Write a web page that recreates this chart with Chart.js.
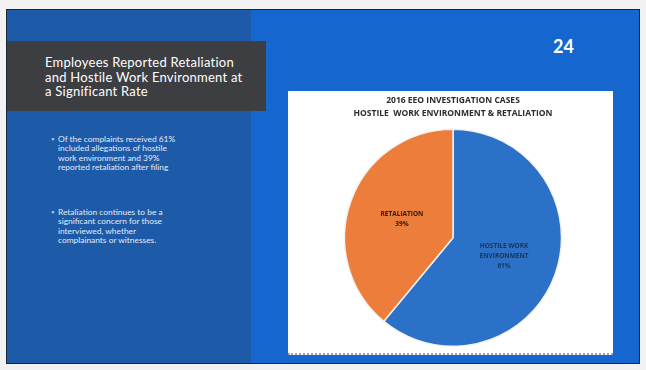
<!DOCTYPE html>
<html>
<head>
<meta charset="utf-8">
<script src="https://cdn.jsdelivr.net/npm/chart.js@4"></script>
<style>
  html, body { margin: 0; padding: 0; background: #f2f2f2; }
  body { width: 646px; height: 370px; position: relative; overflow: hidden; font-family: Lato, "Open Sans", sans-serif; }
  .slide { position: absolute; left: 6px; top: 9px; width: 634px; height: 355px; background: #1567cf; border: 1px solid #1b2638; box-sizing: border-box; }
  .leftpane { position: absolute; left: 0; top: 0; width: 244px; height: 100%; background: #1d5ba8; }
  .titlebox { position: absolute; left: 0; top: 31px; width: 259px; height: 70px; background: #3c3e42; }
  .titlebox p { margin: 0; position: absolute; left: 38px; top: 14px; color: #fff; font-size: 13px; letter-spacing: 0.25px; line-height: 14.5px; white-space: nowrap; }
  .bullets { position: absolute; left: 44px; top: 125px; width: 200px; color: #e2eaf6; font-size: 8.4px; line-height: 9.3px; white-space: nowrap; }
  .bullets div { position: relative; padding-left: 7px; margin-bottom: 36px; }
  .bullets div::before { content: "\25AA"; position: absolute; left: 0; top: 0; color: #9fc0ea; }
  .pagenum { position: absolute; left: 546px; top: 25px; color: #fff; font-size: 18px; font-weight: bold; }
  .chartbox { position: absolute; left: 281px; top: 81px; width: 325px; height: 262px; background: #fff; border-bottom: 2px dotted #9aa4b4; }
</style>
</head>
<body>
<div class="slide">
  <div class="leftpane"></div>
  <div class="titlebox"><p>Employees Reported Retaliation<br>and Hostile Work Environment at<br>a Significant Rate</p></div>
  <div class="bullets">
    <div>Of the complaints received 61%<br>included allegations of hostile<br>work environment and 39%<br>reported retaliation after filing</div>
    <div>Retaliation continues to be a<br>significant concern for those<br>interviewed, whether<br>complainants or witnesses.</div>
  </div>
  <div class="pagenum">24</div>
  <div class="chartbox"><canvas id="pie"></canvas></div>
</div>
<script>
const categories = ['HOSTILE WORK ENVIRONMENT', 'RETALIATION']
const percents = [61, 39]
const COLORS = ['#2b71c8', '#ed7d3b']
const chartTitle = ['2016 EEO INVESTIGATION CASES', 'HOSTILE  WORK ENVIRONMENT & RETALIATION']

// split a label into short lines like the slide
function labelLines(name, pct) {
  if (name === 'HOSTILE WORK ENVIRONMENT') return ['HOSTILE WORK', 'ENVIRONMENT', pct + '%']
  return [name, pct + '%']
}

const sliceLabels = {
  id: 'sliceLabels',
  afterDatasetsDraw(chart) {
    const ctx = chart.ctx
    const meta = chart.getDatasetMeta(0)
    ctx.save()
    ctx.font = 'bold 6.5px "Open Sans", sans-serif'
    ctx.textAlign = 'center'
    ctx.textBaseline = 'middle'
    meta.data.forEach((arc, i) => {
      const p = arc.getCenterPoint()
      const lines = labelLines(categories[i], percents[i])
      ctx.fillStyle = i === 0 ? '#1c3558' : '#2a1a10'
      const step = 10
      lines.forEach((t, j) => {
        ctx.fillText(t, p.x, p.y + (j - (lines.length - 1) / 2) * step)
      })
    })
    ctx.restore()
  }
}

const ctx = document.getElementById('pie').getContext('2d')
let PieChart = new Chart(ctx, {
  type: 'pie',
  data: {
    labels: categories,
    datasets: [{
      data: percents,
      backgroundColor: COLORS,
      borderColor: '#f4f1ee',
      borderWidth: 1.5
    }]
  },
  options: {
    responsive: true,
    maintainAspectRatio: false,
    animation: false,
    layout: { padding: { left: 5, right: 0, top: 0, bottom: 6 } },
    plugins: {
      legend: { display: false },
      tooltip: { enabled: false },
      title: {
        display: true,
        text: chartTitle,
        color: '#2b2b2b',
        font: { family: '"Open Sans", sans-serif', size: 8.5, weight: 'bold', lineHeight: 1.5 },
        padding: { top: 3, bottom: 9 }
      }
    }
  },
  plugins: [sliceLabels]
})
</script>
</body>
</html>
